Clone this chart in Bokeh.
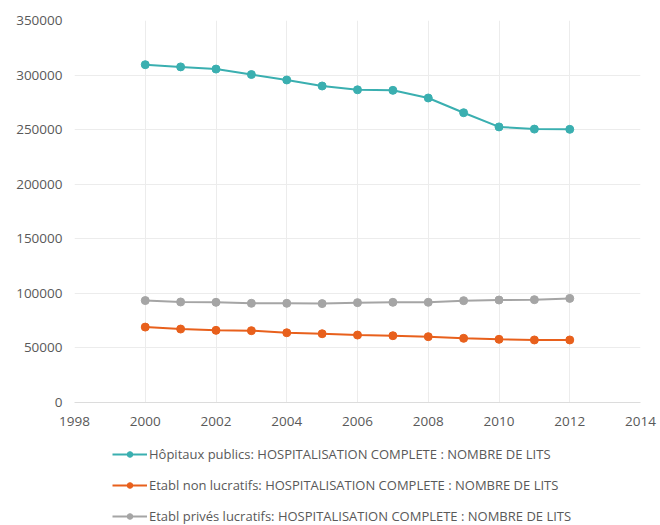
from bokeh.plotting import figure
from bokeh.layouts import column
from bokeh.models import Legend, LegendItem, FixedTicker, NumeralTickFormatter, Range1d
from bokeh.embed import file_html
from bokeh.resources import INLINE

years = [2000, 2001, 2002, 2003, 2004, 2005, 2006, 2007, 2008, 2009, 2010, 2011, 2012]
publics = [309500, 307500, 305500, 300500, 295500, 290000, 286500, 286000, 279000, 265500, 252500, 250500, 250300]
non_lucratifs = [69100, 67300, 66100, 65800, 63900, 63000, 61800, 61200, 60300, 58800, 57900, 57300, 57300]
prives_lucratifs = [93400, 92100, 91800, 90900, 90900, 90600, 91500, 91800, 91800, 93300, 93900, 94200, 95400]

labels = [
    "Hôpitaux publics: HOSPITALISATION COMPLETE : NOMBRE DE LITS",
    "Etabl non lucratifs: HOSPITALISATION COMPLETE : NOMBRE DE LITS",
    "Etabl privés lucratifs: HOSPITALISATION COMPLETE : NOMBRE DE LITS",
]
colors = ["#3aafb0", "#e8601c", "#a5a5a5"]
x_ticks = [1998, 2000, 2002, 2004, 2006, 2008, 2010, 2012, 2014]
y_ticks = [0, 50000, 100000, 150000, 200000, 250000, 300000, 350000]

FONT = "Open Sans"
TXT = "#595959"

# main chart
p = figure(width=660, height=440, output_backend="svg", toolbar_location=None,
           x_range=Range1d(1998, 2014), y_range=Range1d(0, 350000),
           min_border_left=74, min_border_right=20, min_border_top=20, min_border_bottom=38)
p.outline_line_color = None
p.background_fill_color = "white"

p.xaxis.ticker = FixedTicker(ticks=x_ticks)
p.yaxis.ticker = FixedTicker(ticks=y_ticks)
p.yaxis.formatter = NumeralTickFormatter(format="0")
for ax in (p.xaxis, p.yaxis):
    ax.major_tick_line_color = None
    ax.minor_tick_line_color = None
    ax.major_tick_out = 0
    ax.major_tick_in = 0
    ax.minor_tick_out = 0
    ax.major_label_text_font = FONT
    ax.major_label_text_font_size = "13.5px"
    ax.major_label_text_color = TXT
    ax.major_label_standoff = 12
p.xaxis.major_label_standoff = 14
p.xaxis.axis_line_color = "#dcdcdc"
p.yaxis.axis_line_color = None
p.xgrid.ticker = FixedTicker(ticks=x_ticks)
p.ygrid.ticker = FixedTicker(ticks=y_ticks)
p.xgrid.grid_line_color = "#ececec"
p.ygrid.grid_line_color = "#ececec"

for vals, col in zip([publics, non_lucratifs, prives_lucratifs], colors):
    p.line(years, vals, line_color=col, line_width=2)
    p.scatter(years, vals, size=8, fill_color=col, line_color=col)

# legend strip (its renderers sit outside the visible range; only the legend shows)
q = figure(width=660, height=85, output_backend="svg", toolbar_location=None,
           x_range=Range1d(0, 1), y_range=Range1d(0, 1),
           min_border_left=74, min_border_right=20, min_border_top=0, min_border_bottom=0)
q.axis.visible = False
q.grid.visible = False
q.outline_line_color = None
items = []
for col, lab in zip(colors, labels):
    r1 = q.line(x=[5, 6], y=[5, 6], line_color=col, line_width=2)
    r2 = q.scatter(x=[5], y=[5], size=8, fill_color=col, line_color=col)
    items.append(LegendItem(label=lab, renderers=[r1, r2]))

legend = Legend(items=items, location=(38, 0), orientation="vertical",
                padding=0, margin=0, spacing=13, glyph_width=35, glyph_height=14,
                label_height=14, label_standoff=2,
                label_text_font=FONT, label_text_font_size="13px", label_text_color=TXT,
                background_fill_alpha=0, border_line_alpha=0)
q.add_layout(legend, "center")

layout = column(p, q, spacing=0)
open("out.html", "w").write(file_html(layout, INLINE))
